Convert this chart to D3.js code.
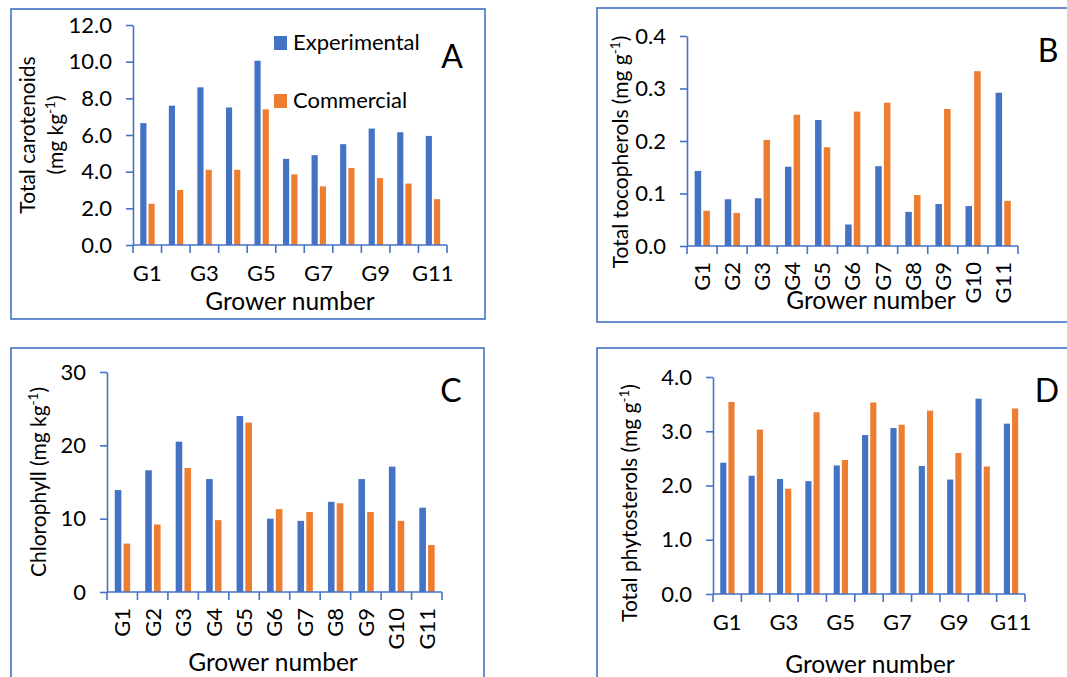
<!DOCTYPE html>
<html>
<head>
<meta charset="utf-8">
<script src="https://cdn.jsdelivr.net/npm/d3@7"></script>
<style>
  body { margin: 0; background: #fff; }
  text { font-family: Lato, "Open Sans", sans-serif; fill: #000; }
</style>
</head>
<body>
<svg id="chart" width="1067" height="677"></svg>
<script>
var growers = ['G1', 'G2', 'G3', 'G4', 'G5', 'G6', 'G7', 'G8', 'G9', 'G10', 'G11']

// A - total carotenoids (mg kg-1)
var carotenoidsExp = [6.65, 7.6, 8.6, 7.5, 10.05, 4.7, 4.9, 5.5, 6.35, 6.15, 5.95]
var carotenoidsCom = [2.25, 3.0, 4.1, 4.1, 7.4, 3.85, 3.2, 4.2, 3.65, 3.35, 2.5]
var carotenoidsTicks = [0, 2, 4, 6, 8, 10, 12]

// B - total tocopherols (mg g-1)
var tocopherolsExp = [0.143, 0.089, 0.091, 0.151, 0.240, 0.041, 0.152, 0.065, 0.080, 0.076, 0.292]
var tocopherolsCom = [0.067, 0.063, 0.202, 0.250, 0.188, 0.256, 0.273, 0.097, 0.261, 0.333, 0.086]
var tocopherolsTicks = [0, 0.1, 0.2, 0.3, 0.4]

// C - chlorophyll (mg kg-1)
var chlorophyllExp = [13.9, 16.6, 20.5, 15.4, 24.0, 10.0, 9.7, 12.3, 15.4, 17.1, 11.5]
var chlorophyllCom = [6.6, 9.2, 16.9, 9.8, 23.1, 11.3, 10.9, 12.1, 10.9, 9.7, 6.4]
var chlorophyllTicks = [0, 10, 20, 30]

// D - total phytosterols (mg g-1)
var phytosterolsExp = [2.42, 2.18, 2.12, 2.08, 2.37, 2.93, 3.06, 2.36, 2.11, 3.60, 3.14]
var phytosterolsCom = [3.54, 3.03, 1.94, 3.35, 2.47, 3.53, 3.12, 3.38, 2.60, 2.35, 3.42]
var phytosterolsTicks = [0, 1, 2, 3, 4]

var seriesNames = ['Experimental', 'Commercial']
var colors = ['#4472C4', '#ED7D31']
var lineColor = '#4472C4'

var svg = d3.select('#chart')

var panels = [
  { letter: 'A', exp: carotenoidsExp, com: carotenoidsCom, ticks: carotenoidsTicks, fmt: '.1f',
    frame: [11, 9, 474, 310], x0: 133, x1: 447, yBase: 245, yTop: 25,
    rotate: false, titleLines: [['Total carotenoids'], ['(mg kg', '-1', ')']],
    titleX: [35, 63], titleY: 135, xTitleX: 290, xTitleY: 310, letterPos: [452, 68] },
  { letter: 'B', exp: tocopherolsExp, com: tocopherolsCom, ticks: tocopherolsTicks, fmt: '.1f',
    frame: [597, 8, 480, 314], x0: 687, x1: 1018, yBase: 246, yTop: 36,
    rotate: true, titleLines: [['Total tocopherols (mg g', '-1', ')']],
    titleX: [628], titleY: 152, xTitleX: 871, xTitleY: 309, letterPos: [1048, 62] },
  { letter: 'C', exp: chlorophyllExp, com: chlorophyllCom, ticks: chlorophyllTicks, fmt: 'd',
    frame: [11, 348, 473, 340], x0: 107, x1: 442, yBase: 592, yTop: 372,
    rotate: true, titleLines: [['Chlorophyll (mg kg', '-1', ')']],
    titleX: [46], titleY: 482, xTitleX: 273, xTitleY: 671, letterPos: [451, 402] },
  { letter: 'D', exp: phytosterolsExp, com: phytosterolsCom, ticks: phytosterolsTicks, fmt: '.1f',
    frame: [597, 348, 480, 340], x0: 713, x1: 1025, yBase: 594, yTop: 377,
    rotate: false, titleLines: [['Total phytosterols (mg g', '-1', ')']],
    titleX: [637], titleY: 503, xTitleX: 870, xTitleY: 673, letterPos: [1047, 402] }
]

panels.forEach(drawPanel)

function drawPanel(p) {
  var g = svg.append('g')

  g.append('rect')
    .attr('x', p.frame[0]).attr('y', p.frame[1])
    .attr('width', p.frame[2]).attr('height', p.frame[3])
    .attr('fill', 'none').attr('stroke', lineColor).attr('stroke-width', 1.6)

  var x = d3.scaleBand().domain(growers).range([p.x0, p.x1])
  var bw = x.bandwidth()
  var xs = d3.scaleBand().domain(seriesNames)
    .range([bw * 0.255, bw * 0.76]).paddingInner(0.25)
  var y = d3.scaleLinear()
    .domain([0, p.ticks[p.ticks.length - 1]])
    .range([p.yBase, p.yTop])

  var rows = growers.map(function(d, i) {
    return { grower: d, values: [p.exp[i], p.com[i]] }
  })

  var groups = g.selectAll('g.grp')
    .data(rows)
    .enter().append('g')
    .attr('transform', function(d) { return 'translate(' + x(d.grower) + ',0)' })

  groups.selectAll('rect')
    .data(function(d) {
      return d.values.map(function(v, k) { return { key: seriesNames[k], value: v, k: k } })
    })
    .enter().append('rect')
    .attr('x', function(d) { return xs(d.key) })
    .attr('width', xs.bandwidth())
    .attr('y', function(d) { return y(d.value) })
    .attr('height', function(d) { return p.yBase - y(d.value) })
    .attr('fill', function(d) { return colors[d.k] })

  // y axis
  var yAxis = g.append('g')
    .attr('transform', 'translate(' + p.x0 + ',0)')
    .call(d3.axisLeft(y).tickValues(p.ticks).tickFormat(d3.format(p.fmt))
      .tickSize(7).tickPadding(14).tickSizeOuter(0))
  yAxis.selectAll('line, path').attr('stroke', lineColor).attr('stroke-width', 1.6)
  yAxis.selectAll('text').attr('font-size', 22).attr('font-family', 'Lato').attr('fill', '#000')

  // x axis: baseline and ticks at category boundaries
  g.append('line')
    .attr('x1', p.x0).attr('x2', p.x1)
    .attr('y1', p.yBase).attr('y2', p.yBase)
    .attr('stroke', lineColor).attr('stroke-width', 1.6)
  var bounds = growers.map(function(d) { return x(d) }).concat([p.x1])
  g.selectAll('line.bnd')
    .data(bounds)
    .enter().append('line')
    .attr('x1', function(d) { return d }).attr('x2', function(d) { return d })
    .attr('y1', p.yBase).attr('y2', p.yBase + 8)
    .attr('stroke', lineColor).attr('stroke-width', 1.6)

  // x tick labels
  if (p.rotate) {
    g.selectAll('text.xl')
      .data(growers)
      .enter().append('text')
      .attr('transform', function(d) {
        return 'translate(' + (x(d) + bw / 2) + ',' + (p.yBase + 16) + ') rotate(-90)'
      })
      .attr('dy', '0.36em')
      .attr('text-anchor', 'end')
      .attr('font-size', 22)
      .text(function(d) { return d })
  } else {
    g.selectAll('text.xl')
      .data(growers.filter(function(d, i) { return i % 2 === 0 }))
      .enter().append('text')
      .attr('x', function(d) { return x(d) + bw / 2 })
      .attr('y', p.yBase + 36)
      .attr('text-anchor', 'middle')
      .attr('font-size', 22)
      .text(function(d) { return d })
  }

  // x title
  g.append('text')
    .attr('x', p.xTitleX)
    .attr('y', p.xTitleY)
    .attr('text-anchor', 'middle')
    .attr('font-size', 24.5)
    .text('Grower number')

  // y title
  p.titleLines.forEach(function(parts, li) {
    var t = g.append('text')
      .attr('transform', 'translate(' + p.titleX[li] + ',' + p.titleY + ') rotate(-90)')
      .attr('text-anchor', 'middle')
      .attr('font-size', 21)
    t.append('tspan').text(parts[0])
    if (parts.length > 1) {
      t.append('tspan').attr('dy', -8).attr('font-size', 13.5).text(parts[1])
      t.append('tspan').attr('dy', 8).text(parts[2])
    }
  })

  // panel letter
  g.append('text')
    .attr('x', p.letterPos[0]).attr('y', p.letterPos[1])
    .attr('text-anchor', 'middle')
    .attr('font-size', 32)
    .text(p.letter)

  if (p.letter === 'A') {
    var leg = g.selectAll('g.leg')
      .data(seriesNames)
      .enter().append('g')
      .attr('transform', function(d, i) { return 'translate(274,' + (36 + i * 58) + ')' })
    leg.append('rect')
      .attr('width', 13).attr('height', 14)
      .attr('fill', function(d, i) { return colors[i] })
    leg.append('text')
      .attr('x', 19).attr('y', 14)
      .attr('font-size', 22)
      .text(function(d) { return d })
  }
}
</script>
</body>
</html>
